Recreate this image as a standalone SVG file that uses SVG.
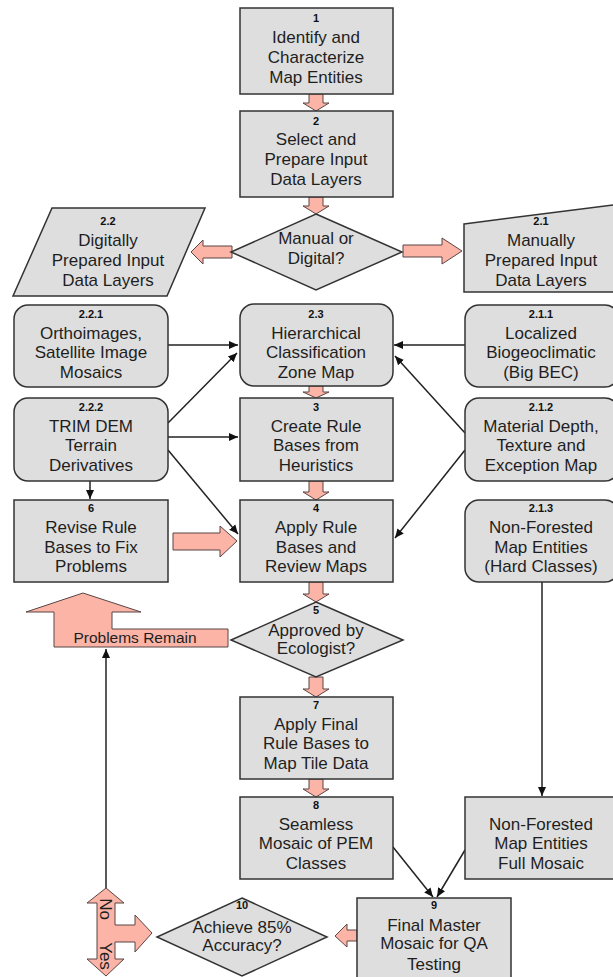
<svg xmlns="http://www.w3.org/2000/svg" width="613" height="977" viewBox="0 0 613 977">
<defs>
<style>
.box{fill:#dedede;stroke:#333;stroke-width:1.5}
.pk{fill:#fbb4a6;stroke:#5a4545;stroke-width:1}
.t{font-family:"Liberation Sans",Arial,sans-serif;font-size:17px;fill:#1e1e1e;text-anchor:middle}
.n{font-family:"Liberation Sans",Arial,sans-serif;font-size:11px;font-weight:bold;fill:#111;text-anchor:middle}
.c{stroke:#222;stroke-width:1.5;fill:none;marker-end:url(#ah)}
</style>
<marker id="ah" markerWidth="10" markerHeight="10" refX="9" refY="5" orient="auto" markerUnits="userSpaceOnUse">
<path d="M0,1 L9,5 L0,9 z" fill="#111"/>
</marker>
</defs>
<rect width="613" height="977" fill="#fff"/>

<g id="block-arrows">
<polygon class="pk" points="309,94 323,94 323,103 329,103 316,111 303,103 309,103"/>
<polygon class="pk" points="309,197 323,197 323,206 329,206 316,214 303,206 309,206"/>
<polygon class="pk" points="232,246 203,246 203,240 191,252 203,264 203,258 232,258"/>
<polygon class="pk" points="403,245 442,245 442,238 462,251 442,264 442,257 403,257"/>
<polygon class="pk" points="309,386 323,386 323,392 329,392 316,398 303,392 309,392"/>
<polygon class="pk" points="309,481 323,481 323,492 329,492 316,500 303,492 309,492"/>
<polygon class="pk" points="173,533 220,533 220,526 237,541 220,557 220,550 173,550"/>
<polygon class="pk" points="309,582 323,582 323,594 329,594 316,602 303,594 309,594"/>
<polygon class="pk" points="309,677 323,677 323,689 329,689 316,697 303,689 309,689"/>
<polygon class="pk" points="309,779 323,779 323,789 329,789 316,797 303,789 309,789"/>
<polygon class="pk" points="357,930 347,930 347,924 335,936 347,947 347,941 357,941"/>
</g>

<g id="connectors">
<line class="c" x1="167" y1="345" x2="238" y2="345"/>
<line class="c" x1="465" y1="345" x2="394" y2="345"/>
<line class="c" x1="168" y1="423" x2="237" y2="353"/>
<line class="c" x1="168" y1="437" x2="238" y2="437"/>
<line class="c" x1="168" y1="450" x2="238" y2="534"/>
<line class="c" x1="465" y1="433" x2="395" y2="356"/>
<line class="c" x1="465" y1="450" x2="395" y2="538"/>
<line class="c" x1="90" y1="481" x2="90" y2="499"/>
<line class="c" x1="542" y1="582" x2="542" y2="796"/>
<line class="c" x1="393" y1="847" x2="433" y2="897"/>
<line class="c" x1="465" y1="850" x2="437" y2="897"/>
<line class="c" x1="106" y1="888" x2="106" y2="649"/>
</g>

<g id="n1">
<rect class="box" x="240" y="8" width="153" height="86"/>
<text class="n" x="316" y="22">1</text>
<text class="t" x="316" y="43">Identify and</text>
<text class="t" x="316" y="63">Characterize</text>
<text class="t" x="316" y="83">Map Entities</text>
</g>
<g id="n2">
<rect class="box" x="240" y="111" width="153" height="86"/>
<text class="n" x="316" y="125">2</text>
<text class="t" x="316" y="145">Select and</text>
<text class="t" x="316" y="165">Prepare Input</text>
<text class="t" x="316" y="185">Data Layers</text>
</g>
<g id="d-manual">
<polygon class="box" points="316,214 402,252 316,290 231,252"/>
<text class="t" x="316" y="244">Manual or</text>
<text class="t" x="316" y="264">Digital?</text>
</g>
<g id="n2-2">
<polygon class="box" points="52,208 205,208 167,296 13,296"/>
<text class="n" x="108" y="225">2.2</text>
<text class="t" x="108" y="246">Digitally</text>
<text class="t" x="108" y="266">Prepared Input</text>
<text class="t" x="108" y="286">Data Layers</text>
</g>
<g id="n2-1">
<polygon class="box" points="464,224 620,204 620,292 464,292"/>
<text class="n" x="541" y="225">2.1</text>
<text class="t" x="541" y="246">Manually</text>
<text class="t" x="541" y="266">Prepared Input</text>
<text class="t" x="541" y="286">Data Layers</text>
</g>

<g id="n2-2-1">
<rect class="box" x="14" y="305" width="154" height="82" rx="14"/>
<text class="n" x="91" y="318">2.2.1</text>
<text class="t" x="91" y="339">Orthoimages,</text>
<text class="t" x="91" y="358">Satellite Image</text>
<text class="t" x="91" y="378">Mosaics</text>
</g>
<g id="n2-3">
<rect class="box" x="240" y="304" width="153" height="82" rx="14"/>
<text class="n" x="316" y="318">2.3</text>
<text class="t" x="316" y="339">Hierarchical</text>
<text class="t" x="316" y="358">Classification</text>
<text class="t" x="316" y="378">Zone Map</text>
</g>
<g id="n2-1-1">
<rect class="box" x="465" y="305" width="154" height="82" rx="14"/>
<text class="n" x="541" y="318">2.1.1</text>
<text class="t" x="541" y="339">Localized</text>
<text class="t" x="541" y="358">Biogeoclimatic</text>
<text class="t" x="541" y="378">(Big BEC)</text>
</g>

<g id="n2-2-2">
<rect class="box" x="14" y="398" width="154" height="83" rx="14"/>
<text class="n" x="91" y="411">2.2.2</text>
<text class="t" x="91" y="432">TRIM DEM</text>
<text class="t" x="91" y="451">Terrain</text>
<text class="t" x="91" y="471">Derivatives</text>
</g>
<g id="n3">
<rect class="box" x="240" y="398" width="153" height="83"/>
<text class="n" x="316" y="411">3</text>
<text class="t" x="316" y="432">Create Rule</text>
<text class="t" x="316" y="451">Bases from</text>
<text class="t" x="316" y="471">Heuristics</text>
</g>
<g id="n2-1-2">
<rect class="box" x="465" y="398" width="154" height="83" rx="14"/>
<text class="n" x="541" y="411">2.1.2</text>
<text class="t" x="541" y="432">Material Depth,</text>
<text class="t" x="541" y="451">Texture and</text>
<text class="t" x="541" y="471">Exception Map</text>
</g>

<g id="n6">
<rect class="box" x="14" y="500" width="154" height="82"/>
<text class="n" x="91" y="512">6</text>
<text class="t" x="91" y="533">Revise Rule</text>
<text class="t" x="91" y="553">Bases to Fix</text>
<text class="t" x="91" y="572">Problems</text>
</g>
<g id="n4">
<rect class="box" x="240" y="500" width="153" height="82"/>
<text class="n" x="316" y="512">4</text>
<text class="t" x="316" y="533">Apply Rule</text>
<text class="t" x="316" y="553">Bases and</text>
<text class="t" x="316" y="572">Review Maps</text>
</g>
<g id="n2-1-3">
<rect class="box" x="465" y="500" width="154" height="82" rx="14"/>
<text class="n" x="541" y="512">2.1.3</text>
<text class="t" x="541" y="533">Non-Forested</text>
<text class="t" x="541" y="553">Map Entities</text>
<text class="t" x="541" y="572">(Hard Classes)</text>
</g>

<g id="problems-remain">
<polygon class="pk" points="83,593 141,612 112,612 112,629 228,629 228,647 54,647 54,612 26,612"/>
<text class="t" x="135" y="643" style="font-size:15.5px">Problems Remain</text>
</g>

<g id="n5">
<polygon class="box" points="316,602 403,640 316,677 231,640"/>
<text class="n" x="316" y="614">5</text>
<text class="t" x="316" y="636">Approved by</text>
<text class="t" x="316" y="654">Ecologist?</text>
</g>

<g id="n7">
<rect class="box" x="240" y="697" width="153" height="82"/>
<text class="n" x="316" y="709">7</text>
<text class="t" x="316" y="730">Apply Final</text>
<text class="t" x="316" y="749">Rule Bases to</text>
<text class="t" x="316" y="769">Map Tile Data</text>
</g>
<g id="n8">
<rect class="box" x="240" y="797" width="153" height="82"/>
<text class="n" x="316" y="809">8</text>
<text class="t" x="316" y="830">Seamless</text>
<text class="t" x="316" y="849">Mosaic of PEM</text>
<text class="t" x="316" y="869">Classes</text>
</g>
<g id="n-nf-mosaic">
<rect class="box" x="465" y="797" width="154" height="82"/>
<text class="t" x="541" y="830">Non-Forested</text>
<text class="t" x="541" y="849">Map Entities</text>
<text class="t" x="541" y="869">Full Mosaic</text>
</g>
<g id="n9">
<rect class="box" x="357" y="898" width="154" height="90"/>
<text class="n" x="434" y="909">9</text>
<text class="t" x="434" y="931">Final Master</text>
<text class="t" x="434" y="949">Mosaic for QA</text>
<text class="t" x="434" y="970">Testing</text>
</g>
<g id="n10">
<polygon class="box" points="242,898 327,937 242,976 157,937"/>
<text class="n" x="242" y="909">10</text>
<text class="t" x="242" y="933">Achieve 85%</text>
<text class="t" x="242" y="951">Accuracy?</text>
</g>
<g id="no-yes">
<polygon class="pk" points="106,888 124,903 115,903 115,925 135,925 135,915 152,933 135,952 135,942 115,942 115,959 124,959 106,976 87,959 97,959 97,903 87,903"/>
<text class="t" transform="translate(106,909) rotate(90)" x="0" y="6">No</text>
<text class="t" transform="translate(106,956) rotate(90)" x="0" y="6">Yes</text>
</g>
</svg>
